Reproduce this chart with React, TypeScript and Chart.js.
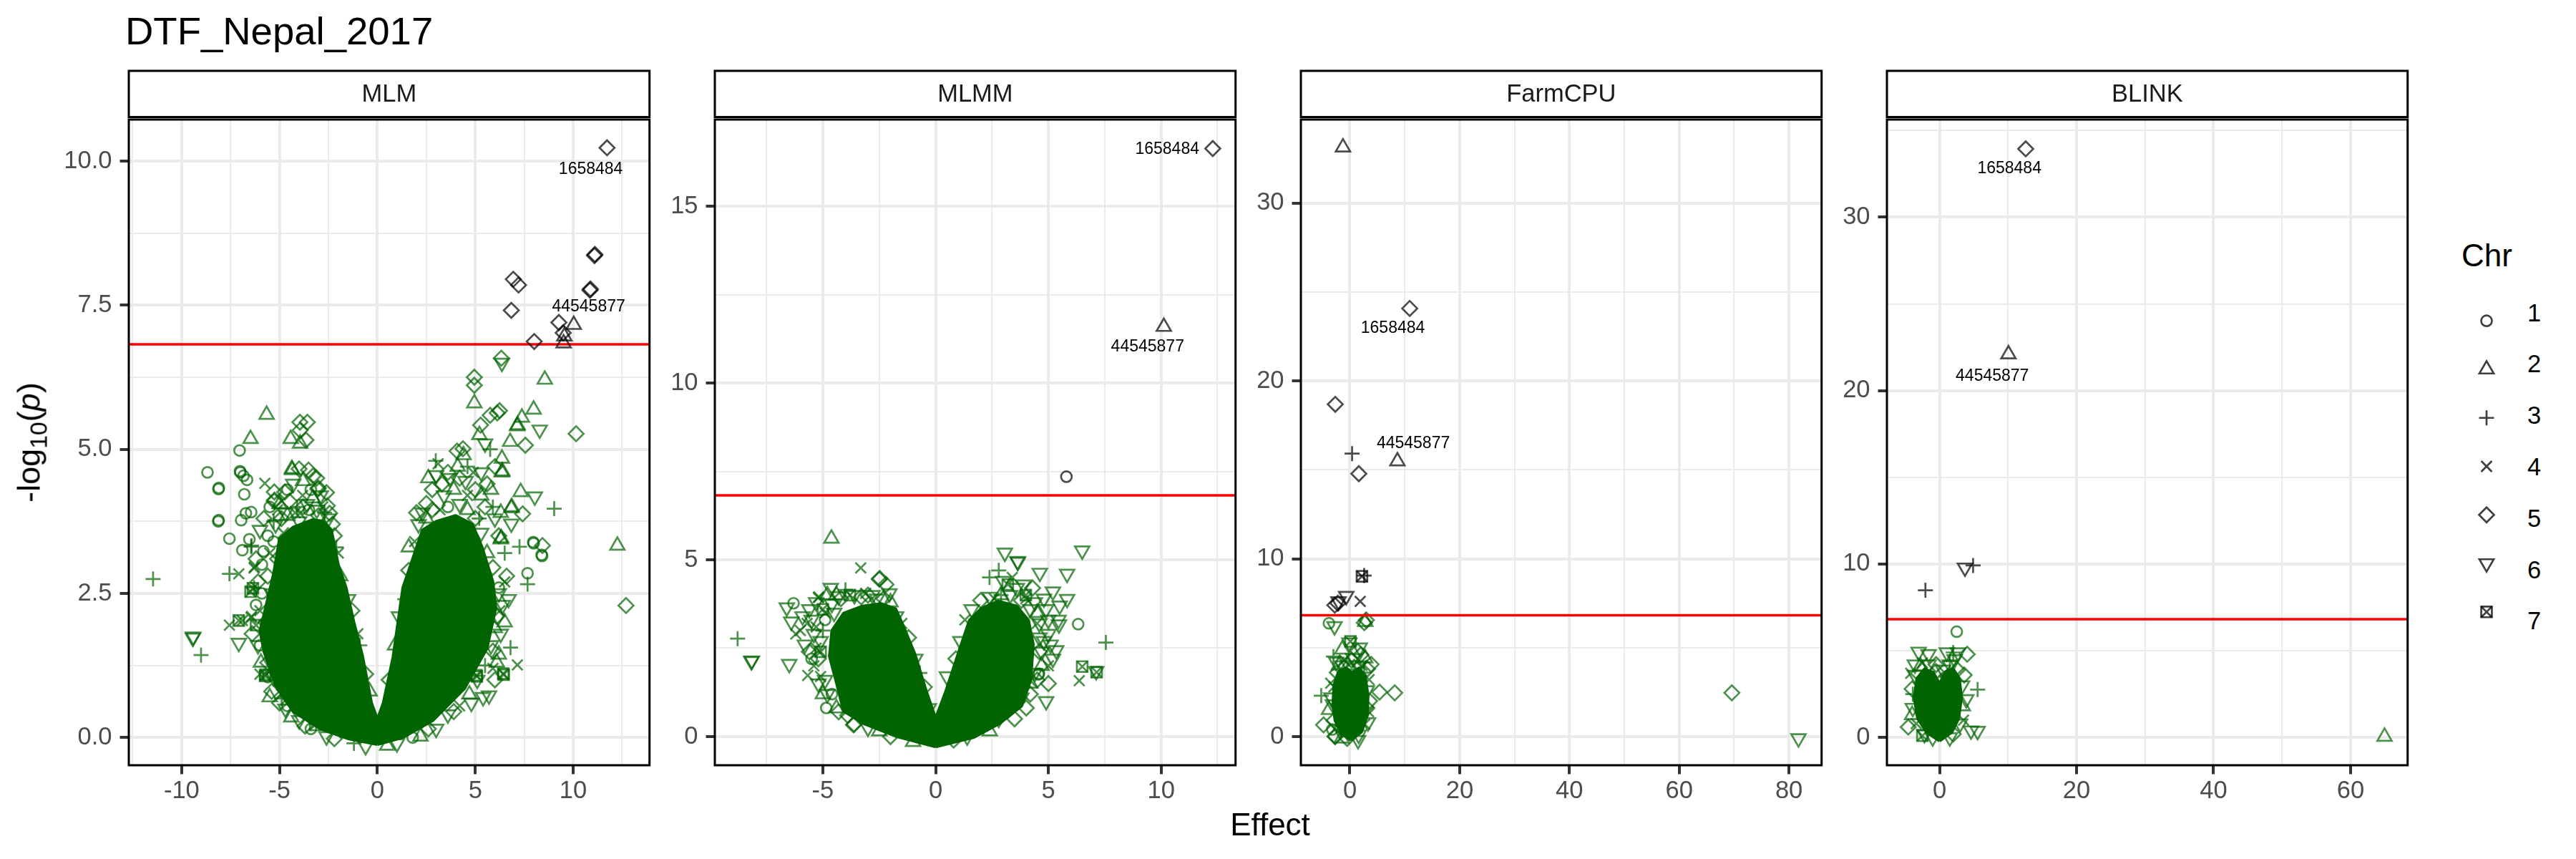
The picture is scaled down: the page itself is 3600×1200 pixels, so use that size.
import { useEffect, useRef } from 'react'
import { Chart, registerables } from 'chart.js'

Chart.register(...registerables)

const FONT = "'Liberation Sans', Arial, Helvetica, sans-serif"
Chart.defaults.font.family = FONT

// [effect, -log10(p), chromosome]
type Pt = [number, number, number]
// [text, effect, -log10(p)]
type Lab = [string, number, number]

const TITLE = 'DTF_Nepal_2017'
const X_TITLE = 'Effect'
const LEGEND_TITLE = 'Chr'
const CHROMOSOMES = [1, 2, 3, 4, 5, 6, 7]
const THRESHOLD = 6.82

// ---- MLM ----
const MLM_X_LIM = [-12.7, 13.9]
const MLM_Y_LIM = [-0.48, 10.72]
const MLM_X_BREAKS = [-10, -5, 0, 5, 10]
const MLM_X_MINOR = [-12.5, -7.5, -2.5, 2.5, 7.5, 12.5]
const MLM_Y_BREAKS = [0, 2.5, 5, 7.5, 10]
const MLM_Y_MINOR = [1.25, 3.75, 6.25, 8.75]
// outline of the solid, fully over-plotted part of the cloud
const MLM_CORE: [number, number][] = [
  [0, -0.12], [-1.5, -0.02], [-2.9, 0.15], [-4.3, 0.45], [-5.2, 0.9], [-5.8, 1.5], [-6.0, 1.85],
  [-5.75, 2.2], [-5.3, 2.85], [-5.0, 3.45], [-4.3, 3.65], [-3.3, 3.78], [-2.75, 3.75], [-2.35, 3.6],
  [-2.0, 3.0], [-1.6, 2.6], [-1.2, 2.0], [-0.75, 1.4], [-0.3, 0.6], [0, 0.32], [0.3, 0.6], [0.8, 1.4],
  [1.3, 2.6], [1.9, 3.2], [2.3, 3.6], [3.0, 3.75], [4.0, 3.85], [4.85, 3.7], [5.35, 3.3], [5.9, 2.7],
  [6.05, 2.25], [5.6, 1.55], [4.45, 0.85], [2.85, 0.3], [1.3, 0.0], [0, -0.12],
]
const MLM_POINTS: Pt[] = [
  [-11.46, 2.75, 3], [-9.43, 1.73, 6], [-9.41, 1.75, 6], [-9.01, 1.43, 3], [-8.68, 4.6, 1],
  [-8.12, 4.31, 1], [-8.1, 4.33, 1], [-8.13, 3.75, 1], [-8.11, 3.77, 1], [-7.56, 3.45, 1],
  [-7.56, 2.84, 3], [-7.08, 2.84, 4], [-7.56, 1.95, 4], [-7.08, 2.03, 7], [-6.9, 2.03, 4], [-7.08, 1.64, 6],
  [-7.04, 4.98, 1], [-7.02, 4.62, 1], [-7.0, 4.6, 1], [-6.84, 4.54, 1], [-6.66, 4.47, 1], [-6.8, 4.22, 1],
  [-6.96, 3.77, 1], [-6.72, 3.89, 1], [-6.45, 3.91, 1], [-6.9, 3.25, 1], [-6.54, 3.44, 1], [-5.82, 3.23, 1],
  [-6.45, 3.31, 3], [-6.43, 3.33, 3], [-6.3, 2.94, 4], [-6.28, 2.96, 4], [-6.36, 2.59, 7], [-6.48, 2.53, 7],
  [-6.45, 2.08, 4], [-6.43, 2.1, 4], [-6.48, 5.18, 2], [-5.66, 5.6, 2], [-5.75, 4.41, 4], [-5.27, 4.26, 5],
  [-4.73, 4.26, 5], [-5.27, 4.1, 5], [-5.25, 4.12, 5], [-4.43, 5.18, 2], [-3.95, 5.1, 2], [-3.65, 5.16, 5],
  [-3.95, 5.33, 5], [-3.96, 5.47, 5], [-3.58, 5.47, 5], [-4.37, 4.66, 2], [-4.35, 4.64, 2], [-4.0, 4.66, 5],
  [-3.52, 4.64, 5], [-3.28, 4.54, 5], [-3.1, 4.5, 5], [-3.04, 4.31, 5], [-3.02, 4.33, 5], [-3.82, 4.2, 4],
  [-3.96, 3.89, 4], [-2.56, 4.02, 5], [-2.44, 3.89, 5], [-5.74, 1.07, 7], [-5.72, 1.09, 7], [-4.89, 0.68, 3],
  [-3.18, 0.22, 7], [-6.1, 1.6, 6], [-5.95, 1.3, 2], [-5.6, 1.05, 1], [-5.4, 0.8, 5], [-4.7, 0.5, 6],
  [-5.0, 0.6, 5], [-4.4, 0.35, 2], [-3.7, 0.2, 5], [-2.6, 0.02, 6], [-6.2, 2.3, 1], [-6.1, 2.7, 5],
  [-5.9, 3.0, 1], [-5.6, 3.5, 1], [-5.8, 3.8, 5], [-5.3, 3.75, 3], [-5.1, 3.95, 4], [-4.7, 3.9, 6],
  [-4.5, 4.1, 5], [-4.1, 4.0, 3], [-3.6, 4.05, 6], [-3.3, 4.15, 2], [-2.8, 4.0, 4], [-2.3, 3.7, 5], [-2.1, 3.3, 3],
  [-4.6, 0.55, 1], [-4.9, 0.75, 4], [-5.3, 1.05, 6], [-5.6, 1.3, 5], [-6.0, 1.6, 1], [-6.2, 1.95, 7],
  [-6.0, 2.2, 4], [-5.9, 2.5, 1], [-5.6, 2.8, 5], [-5.5, 3.2, 4], [-5.3, 3.4, 1], [-5.2, 3.7, 6],
  [-4.9, 3.8, 5], [-4.6, 3.85, 2], [-4.2, 3.9, 4], [-3.8, 4.0, 5], [-3.5, 3.95, 1], [-3.1, 3.95, 6],
  [-2.7, 3.9, 3], [-2.5, 3.8, 6], [-2.2, 3.5, 5], [-2.0, 3.2, 4], [-1.9, 2.8, 2], [-1.5, 2.4, 6],
  [-1.3, 2.2, 5], [-1.0, 1.8, 4], [-0.9, 1.6, 3], [-0.6, 1.1, 5], [-0.4, 0.8, 2], [-4.0, 0.3, 6],
  [-3.4, 0.15, 1], [-2.2, -0.02, 5], [-1.2, -0.1, 3], [-0.6, -0.15, 6], [-5.45, 1.6, 3], [-5.7, 2.0, 5],
  [-5.4, 2.5, 6], [-5.1, 3.1, 5], [-4.8, 3.55, 4], [-4.0, 3.75, 6], [-3.0, 3.85, 5], [-2.4, 3.3, 2],
  [-4.6, 4.3, 1], [-4.3, 4.4, 6], [-3.8, 4.45, 2], [-3.4, 4.3, 1], [-2.9, 4.2, 6], [-2.6, 4.25, 5],
  [-5.0, 4.05, 2], [-5.5, 4.0, 1], [-6.0, 3.6, 6], [-6.2, 3.1, 5], [-6.3, 2.6, 3], [-6.4, 1.8, 5],
  [-6.0, 1.1, 4], [-5.5, 0.7, 2],
  [12.26, 3.33, 2], [12.7, 2.29, 5], [10.15, 5.27, 5], [9.03, 3.97, 3], [7.98, 3.37, 1], [7.96, 3.39, 1],
  [8.41, 3.15, 1], [8.39, 3.17, 1], [8.43, 3.33, 5], [7.26, 3.31, 3], [7.67, 2.85, 1], [7.67, 2.66, 3],
  [6.8, 1.56, 3], [7.15, 1.26, 4], [6.45, 1.09, 7], [6.43, 1.11, 7], [5.08, 1.06, 7], [5.06, 1.08, 7],
  [5.7, 0.73, 6], [4.8, 0.6, 6], [6.2, 1.44, 2], [6.3, 3.44, 2], [6.32, 3.46, 2], [6.84, 3.98, 2],
  [6.86, 4.0, 2], [7.42, 3.88, 5], [6.84, 3.71, 6], [8.04, 4.18, 6], [7.32, 4.26, 2], [6.36, 4.6, 2],
  [6.38, 4.62, 2], [6.36, 4.84, 2], [7.56, 5.07, 5], [5.76, 5.0, 3], [4.07, 4.97, 5], [4.37, 5.01, 5],
  [6.78, 5.13, 2], [5.21, 5.25, 2], [5.27, 5.42, 5], [7.14, 5.4, 2], [7.16, 5.42, 2], [8.29, 5.34, 6],
  [7.38, 5.55, 2], [6.12, 5.63, 5], [6.24, 5.67, 5], [5.76, 5.59, 5], [7.98, 5.69, 2], [4.95, 5.8, 2],
  [8.55, 6.21, 2], [4.95, 6.25, 5], [4.95, 6.11, 5], [6.33, 6.58, 5], [6.36, 6.5, 6], [2.5, 4.06, 5],
  [2.98, 4.8, 3], [3.1, 4.75, 4], [3.6, 4.6, 5], [4.2, 4.5, 5], [4.6, 4.7, 3], [5.3, 4.6, 6], [5.8, 4.3, 2],
  [5.5, 4.0, 5], [6.0, 3.8, 6], [6.5, 3.2, 3], [6.6, 2.8, 5], [6.7, 2.4, 6], [6.5, 2.0, 2], [6.3, 1.8, 6],
  [5.9, 1.2, 4], [3.9, 0.45, 5], [3.0, 0.15, 6], [2.2, 0.02, 2], [3.4, 4.2, 6], [3.9, 4.3, 2], [4.6, 4.2, 4],
  [5.0, 4.3, 5], [4.4, 4.9, 2], [5.5, 5.1, 6], [6.0, 4.7, 5], [5.2, 3.8, 3], [2.8, 4.3, 5], [2.3, 3.9, 6],
  [6.2, 2.6, 1], [6.1, 2.1, 5], [5.8, 1.6, 6],
  [0.6, 1.0, 5], [0.9, 1.6, 2], [1.1, 2.1, 6], [1.4, 2.4, 3], [1.6, 2.9, 5], [1.9, 3.4, 4], [2.1, 3.7, 6],
  [2.5, 3.8, 2], [2.8, 3.95, 5], [3.2, 3.95, 4], [3.6, 4.0, 1], [4.2, 4.05, 6], [4.6, 3.95, 2], [5.0, 3.8, 5],
  [5.3, 3.55, 6], [5.6, 3.2, 2], [5.9, 2.95, 5], [6.2, 2.5, 6], [6.25, 2.2, 4], [6.0, 1.9, 2], [5.9, 1.5, 5],
  [5.5, 1.25, 3], [5.1, 1.0, 6], [4.7, 0.75, 2], [4.2, 0.55, 4], [3.6, 0.4, 6], [2.6, 0.15, 5], [1.8, 0.0, 1],
  [1.0, -0.1, 6], [0.5, -0.14, 2], [3.3, 4.4, 5], [3.7, 4.5, 6], [4.1, 4.7, 2], [4.5, 4.45, 6], [4.9, 4.6, 4],
  [5.3, 4.2, 2], [5.6, 4.4, 5], [5.9, 4.0, 3], [6.3, 3.9, 2], [6.2, 3.5, 5], [6.5, 2.7, 4], [6.4, 2.3, 6],
  [6.1, 1.3, 2], [6.0, 1.0, 5], [5.4, 0.7, 6], [2.6, 4.5, 2], [3.0, 4.55, 6], [2.0, 3.9, 5], [1.6, 3.3, 2],
  [11.73, 10.23, 5], [11.09, 8.36, 5], [11.11, 8.38, 5], [10.86, 7.76, 5], [10.88, 7.78, 5], [6.94, 7.95, 5],
  [7.21, 7.85, 5], [6.84, 7.41, 5], [9.27, 7.2, 5], [10.03, 7.16, 2], [9.49, 7.02, 5], [9.55, 6.96, 2],
  [9.51, 6.84, 2], [8.01, 6.87, 5],
]
const MLM_LABELS: Lab[] = [['1658484', 10.9, 9.86], ['44545877', 10.79, 7.47]]

// ---- MLMM ----
const MLMM_X_LIM = [-9.79, 13.3]
const MLMM_Y_LIM = [-0.81, 17.45]
const MLMM_X_BREAKS = [-5, 0, 5, 10]
const MLMM_X_MINOR = [-7.5, -2.5, 2.5, 7.5, 12.5]
const MLMM_Y_BREAKS = [0, 5, 10, 15]
const MLMM_Y_MINOR = [2.5, 7.5, 12.5]
const MLMM_CORE: [number, number][] = [
  [0, -0.29], [-1.77, 0.01], [-3.13, 0.35], [-4.08, 0.72], [-4.4, 1.53], [-4.71, 2.27], [-4.6, 3.0],
  [-4.08, 3.49], [-3.24, 3.69], [-2.4, 3.76], [-1.77, 3.61], [-1.45, 3.15], [-0.92, 2.34], [-0.4, 1.26],
  [0, 0.52], [0.44, 1.26], [1.07, 2.48], [1.5, 3.29], [2.02, 3.62], [2.76, 3.83], [3.6, 3.69], [4.12, 3.29],
  [4.33, 2.61], [4.22, 1.6], [3.81, 0.86], [2.86, 0.38], [1.7, -0.02], [0, -0.29],
]
const MLMM_POINTS: Pt[] = [
  [-4.62, 5.6, 2], [-3.32, 4.77, 4], [-2.5, 4.45, 5], [-2.48, 4.47, 5], [-2.2, 4.3, 5], [-2.05, 4.05, 6],
  [-4.65, 4.2, 6], [-4.3, 3.97, 6], [-5.2, 3.93, 4], [-5.18, 3.95, 4], [-6.3, 3.77, 1], [-6.6, 3.65, 6],
  [-6.4, 3.25, 6], [-6.2, 2.9, 4], [-8.78, 2.77, 3], [-8.17, 2.13, 6], [-8.15, 2.15, 6], [-6.49, 2.05, 6],
  [-5.67, 1.73, 4], [-4.85, 0.81, 1], [-3.64, 0.33, 5], [-3.62, 0.35, 5], [-4.9, 1.6, 6], [-5.3, 2.5, 4],
  [-5.5, 3.3, 6], [-5.0, 3.6, 7], [-3.8, 4.0, 7], [-3.3, 3.95, 5], [-4.0, 4.15, 3], [-4.5, 3.5, 6],
  [-5.5, 2.2, 1], [-4.6, 1.2, 1], [-4.3, 0.7, 5], [-2.5, 0.15, 2], [-5.6, 3.6, 6], [-5.9, 3.4, 6],
  [-6.0, 3.0, 4], [-5.8, 2.6, 6], [-5.4, 2.0, 4], [-5.2, 1.5, 6], [-5.0, 1.2, 2], [-4.9, 3.3, 1],
  [-5.3, 3.1, 4], [-5.1, 2.4, 7], [-4.4, 4.0, 2], [-3.0, 4.0, 5], [-2.6, 3.9, 6],
  [-3.9, 0.6, 5], [-4.4, 0.8, 2], [-4.8, 1.2, 6], [-5.1, 1.7, 4], [-5.2, 2.2, 5], [-5.1, 2.7, 6],
  [-5.0, 3.0, 3], [-4.9, 3.5, 4], [-4.6, 3.75, 6], [-4.2, 3.9, 5], [-3.6, 4.0, 6], [-3.1, 4.05, 4],
  [-2.8, 4.0, 6], [-2.3, 3.9, 5], [-2.0, 3.8, 2], [-1.75, 3.4, 6], [-1.5, 3.2, 4], [-1.2, 2.8, 5],
  [-0.9, 2.2, 6], [-0.7, 1.8, 3], [-0.5, 1.4, 5], [-0.3, 0.8, 6], [-3.0, 0.25, 6], [-2.0, 0.0, 5],
  [-1.0, -0.15, 2], [-5.4, 2.9, 6], [-5.6, 2.4, 5], [-5.7, 3.2, 4], [-5.3, 3.8, 6], [-4.8, 4.0, 2],
  [6.5, 5.26, 6], [5.83, 4.6, 6], [4.62, 4.63, 6], [3.65, 4.94, 6], [3.63, 4.96, 6], [3.07, 5.2, 6],
  [2.39, 4.5, 3], [2.8, 4.7, 3], [5.83, 3.89, 6], [5.47, 3.17, 6], [5.45, 3.3, 6], [6.32, 3.18, 1],
  [7.55, 2.66, 3], [5.35, 2.44, 6], [6.5, 1.98, 7], [7.14, 1.82, 7], [7.12, 1.85, 6], [6.37, 1.58, 4],
  [4.56, 1.76, 1], [4.58, 1.78, 1], [5.0, 1.5, 5], [4.9, 1.0, 6], [4.02, 0.81, 5], [3.2, 4.3, 7],
  [4.0, 4.0, 7], [4.5, 3.5, 2], [4.9, 3.6, 6], [5.0, 2.9, 6], [4.7, 2.4, 6], [3.5, 0.5, 5], [2.4, 0.15, 2],
  [4.6, 3.2, 6], [4.8, 2.7, 6], [4.7, 2.0, 2], [4.5, 1.6, 5], [4.4, 3.8, 6], [4.0, 3.9, 4], [3.6, 4.2, 6],
  [2.9, 4.0, 3], [2.6, 3.9, 4], [5.2, 2.2, 6], [4.2, 1.2, 5], [5.2, 4.1, 6], [5.5, 3.7, 6],
  [0.5, 1.7, 6], [0.9, 2.2, 5], [1.1, 2.7, 6], [1.3, 3.3, 4], [1.6, 3.6, 6], [2.0, 3.85, 5], [2.4, 3.95, 6],
  [2.9, 4.0, 2], [3.3, 4.0, 6], [3.8, 3.85, 5], [4.2, 3.6, 6], [4.5, 3.2, 4], [4.6, 2.8, 6], [4.6, 2.4, 5],
  [4.4, 1.8, 6], [4.2, 1.5, 2], [3.8, 1.1, 6], [3.3, 0.8, 5], [2.8, 0.5, 6], [2.1, 0.3, 4], [1.4, 0.0, 6],
  [0.8, -0.1, 5], [3.0, 4.4, 6], [3.4, 4.5, 4], [3.9, 4.3, 6], [4.3, 4.2, 5], [4.8, 3.9, 6], [5.0, 3.3, 6],
  [5.1, 2.6, 6], [5.0, 2.0, 4],
  [12.29, 16.63, 5], [10.12, 11.59, 2], [5.8, 7.35, 1],
]
const MLMM_LABELS: Lab[] = [['1658484', 10.27, 16.61], ['44545877', 9.4, 11.01]]

// ---- FarmCPU ----
const FARM_X_LIM = [-8.93, 85.95]
const FARM_Y_LIM = [-1.61, 34.69]
const FARM_X_BREAKS = [0, 20, 40, 60, 80]
const FARM_X_MINOR = [10, 30, 50, 70]
const FARM_Y_BREAKS = [0, 10, 20, 30]
const FARM_Y_MINOR = [5, 15, 25]
const FARM_CORE: [number, number][] = [
  [0.2, -0.2], [-1.5, 0.15], [-2.7, 0.9], [-3.1, 1.8], [-2.9, 2.9], [-2.1, 3.65], [-0.8, 3.85],
  [0.4, 3.6], [1.6, 3.85], [2.8, 3.4], [3.3, 2.3], [3.2, 1.2], [2.1, 0.25], [0.2, -0.2],
]
const FARM_POINTS: Pt[] = [
  [-3.82, 6.37, 1], [-2.8, 6.2, 6], [2.63, 6.4, 5], [3.0, 6.55, 5], [2.8, 6.45, 2], [-0.1, 5.29, 6],
  [0.1, 5.35, 7], [1.4, 4.8, 5], [1.8, 5.0, 6], [-1.4, 4.9, 2], [3.87, 4.06, 5], [8.17, 2.46, 5],
  [5.4, 2.5, 5], [69.6, 2.46, 5], [81.74, -0.1, 6], [-5.22, 2.3, 3], [-4.8, 0.66, 5], [-2.7, 0.0, 5],
  [-2.68, 0.02, 5], [-3.0, 4.5, 3], [-2.5, 4.2, 6], [2.0, 4.6, 5], [2.8, 4.4, 2], [3.5, 3.2, 4],
  [3.6, 2.0, 5], [-3.5, 3.0, 4], [-3.8, 1.5, 2], [3.3, 0.8, 6], [-3.2, 0.4, 1], [-1.0, 4.3, 4],
  [0.6, 4.4, 6], [3.2, 3.8, 5], [-3.4, 2.2, 6], [3.4, 1.4, 4], [1.5, -0.2, 6], [-1.5, -0.1, 2],
  [-2.9, 0.9, 5], [-3.1, 1.8, 6], [-2.9, 2.8, 4], [-2.3, 3.6, 5], [-1.4, 4.0, 6], [-0.3, 4.0, 2],
  [0.8, 3.9, 5], [1.7, 4.0, 6], [2.6, 3.6, 3], [3.1, 2.6, 6], [3.1, 1.6, 5], [2.7, 0.7, 4], [1.6, 0.1, 6],
  [-0.5, -0.1, 5], [-1.9, 0.4, 6], [-2.0, 4.0, 2], [0.3, 4.3, 5], [2.2, 4.0, 4],
  [-1.26, 33.13, 2], [10.9, 24.07, 5], [-2.66, 18.68, 5], [0.4, 15.91, 3], [1.63, 14.78, 5],
  [8.66, 15.48, 2], [2.2, 9.01, 7], [2.6, 9.05, 3], [1.88, 7.6, 4], [-0.67, 7.9, 6], [-2.08, 7.6, 6],
  [-2.75, 7.39, 5], [-2.2, 7.5, 5],
]
const FARM_LABELS: Lab[] = [['1658484', 7.83, 22.95], ['44545877', 11.55, 16.48]]

// ---- BLINK ----
const BLINK_X_LIM = [-7.68, 68.33]
const BLINK_Y_LIM = [-1.6, 35.63]
const BLINK_X_BREAKS = [0, 20, 40, 60]
const BLINK_X_MINOR = [10, 30, 50]
const BLINK_Y_BREAKS = [0, 10, 20, 30]
const BLINK_Y_MINOR = [5, 15, 25, 35]
const BLINK_CORE: [number, number][] = [
  [0, -0.2], [-1.9, 0.3], [-3.2, 1.1], [-3.7, 2.3], [-3.3, 3.4], [-2.2, 3.95], [-0.9, 3.75], [0, 3.1],
  [0.9, 3.8], [2.0, 3.95], [2.9, 3.4], [3.2, 2.3], [2.8, 1.1], [1.8, 0.3], [0, -0.2],
]
const BLINK_POINTS: Pt[] = [
  [2.51, 6.1, 1], [-3.05, 4.94, 6], [-1.6, 4.8, 6], [1.06, 4.9, 6], [2.7, 4.9, 6], [4.04, 4.8, 5],
  [5.56, 2.76, 3], [5.56, 0.37, 6], [4.6, 0.4, 6], [64.96, 0.05, 2], [-4.57, 0.6, 5], [-4.2, 3.7, 4],
  [-3.9, 2.5, 3], [-4.0, 1.3, 2], [3.6, 3.6, 5], [3.9, 2.2, 6], [3.5, 1.0, 4], [-2.5, 0.1, 7],
  [1.5, 4.4, 3], [-0.5, 4.2, 5], [2.2, 4.5, 6], [-2.5, 4.3, 4], [2.0, 4.9, 3], [-3.6, 4.2, 6],
  [-1.0, 0.0, 6], [1.5, 0.0, 6],
  [-3.9, 1.7, 6], [-4.0, 2.8, 5], [-3.6, 3.6, 6], [-2.8, 4.1, 2], [-1.6, 4.2, 6], [-0.5, 3.8, 5],
  [0.5, 3.9, 6], [1.5, 4.2, 6], [2.6, 3.9, 5], [3.3, 3.0, 6], [3.4, 1.8, 2], [3.0, 0.8, 6], [2.0, 0.2, 5],
  [-2.2, 0.2, 6], [-3.4, 0.8, 4], [-1.5, 3.5, 4], [1.2, 3.5, 5],
  [12.58, 33.94, 5], [10.06, 22.1, 2], [3.71, 9.79, 6], [4.9, 9.92, 3], [-2.06, 8.49, 3],
]
const BLINK_LABELS: Lab[] = [['1658484', 10.2, 32.8], ['44545877', 7.7, 20.84]]

const PANELS = [
  { name: 'MLM', xLim: MLM_X_LIM, yLim: MLM_Y_LIM, xBreaks: MLM_X_BREAKS, xMinor: MLM_X_MINOR, yBreaks: MLM_Y_BREAKS, yMinor: MLM_Y_MINOR, yDigits: 1, core: MLM_CORE, points: MLM_POINTS, labels: MLM_LABELS },
  { name: 'MLMM', xLim: MLMM_X_LIM, yLim: MLMM_Y_LIM, xBreaks: MLMM_X_BREAKS, xMinor: MLMM_X_MINOR, yBreaks: MLMM_Y_BREAKS, yMinor: MLMM_Y_MINOR, yDigits: 0, core: MLMM_CORE, points: MLMM_POINTS, labels: MLMM_LABELS },
  { name: 'FarmCPU', xLim: FARM_X_LIM, yLim: FARM_Y_LIM, xBreaks: FARM_X_BREAKS, xMinor: FARM_X_MINOR, yBreaks: FARM_Y_BREAKS, yMinor: FARM_Y_MINOR, yDigits: 0, core: FARM_CORE, points: FARM_POINTS, labels: FARM_LABELS },
  { name: 'BLINK', xLim: BLINK_X_LIM, yLim: BLINK_Y_LIM, xBreaks: BLINK_X_BREAKS, xMinor: BLINK_X_MINOR, yBreaks: BLINK_Y_BREAKS, yMinor: BLINK_Y_MINOR, yDigits: 0, core: BLINK_CORE, points: BLINK_POINTS, labels: BLINK_LABELS },
]

// layout (page pixels)
const PANEL_LEFT = [180, 999, 1818, 2637]
const PANEL_W = 732
const PANEL_TOP = 167
const PANEL_BOTTOM = 1069
const Y_AXIS_W = 120
const X_AXIS_H = 70
const CANVAS_TOP = 90

const GREEN = 'rgba(0,100,0,0.7)'
const GREY = 'rgba(0,0,0,0.7)'
const CORE = '#006400'

const SHAPES: Record<number, { style: string; r: number; rot: number }> = {
  1: { style: 'circle', r: 7.5, rot: 0 },
  2: { style: 'triangle', r: 11.6, rot: 0 },
  3: { style: 'cross', r: 10.5, rot: 0 },
  4: { style: 'crossRot', r: 10.5, rot: 0 },
  5: { style: 'rectRot', r: 10.5, rot: 0 },
  6: { style: 'triangle', r: 11.6, rot: 180 },
  7: { style: 'rect', r: 10.5, rot: 0 },
}

function markerSet(data: { x: number; y: number }[], style: string, r: number, rot: number, color: string, order: number) {
  return {
    type: 'scatter',
    data,
    pointStyle: style,
    pointRadius: r,
    pointRotation: rot,
    borderColor: color,
    pointBorderColor: color,
    backgroundColor: 'rgba(0,0,0,0)',
    pointBackgroundColor: 'rgba(0,0,0,0)',
    pointBorderWidth: 2.7,
    borderWidth: 2.7,
    order,
  }
}

function pointSets(points: Pt[]) {
  const sets: any[] = []
  const groups = [
    { sig: false, color: GREEN, order: 10 },
    { sig: true, color: GREY, order: 2 },
  ]
  for (const g of groups) {
    for (const chr of CHROMOSOMES) {
      const data = points
        .filter((p) => p[2] === chr && p[1] > THRESHOLD === g.sig)
        .map((p) => ({ x: p[0], y: p[1] }))
      if (!data.length) continue
      const s = SHAPES[chr]
      sets.push(markerSet(data, s.style, s.r, s.rot, g.color, g.order))
      if (chr === 7) sets.push(markerSet(data, 'crossRot', s.r, 0, g.color, g.order))
    }
  }
  return sets
}

function axis(lim: number[], breaks: number[], minor: number[], digits: number, isX: boolean) {
  const all = [...breaks, ...minor].sort((a, b) => a - b)
  const major = (v: any) => breaks.includes(v)
  return {
    type: 'linear',
    min: lim[0],
    max: lim[1],
    bounds: 'data',
    afterBuildTicks: (s: any) => {
      s.ticks = all.map((v) => ({ value: v }))
    },
    afterFit: (s: any) => {
      if (isX) s.height = X_AXIS_H
      else s.width = Y_AXIS_W
    },
    border: { display: false },
    grid: {
      color: '#EBEBEB',
      lineWidth: (c: any) => (major(c.tick?.value) ? 4 : 2),
      drawTicks: true,
      tickLength: 12.5,
      tickWidth: 4,
      tickColor: (c: any) => (major(c.tick?.value) ? '#333333' : 'rgba(0,0,0,0)'),
    },
    ticks: {
      autoSkip: false,
      maxRotation: 0,
      minRotation: 0,
      padding: isX ? 3 : 11,
      color: '#4D4D4D',
      font: { family: FONT, size: 34.5 },
      callback: (v: any) => (major(v) ? Number(v).toFixed(digits) : ''),
    },
  }
}

function Panel({ cfg, left }: { cfg: (typeof PANELS)[number]; left: number }) {
  const canvasRef = useRef<HTMLCanvasElement | null>(null)

  useEffect(() => {
    if (!canvasRef.current) return
    const decor = {
      id: 'panelDecor',
      afterDatasetsDraw(chart: any) {
        const { ctx, scales } = chart
        ctx.save()
        ctx.fillStyle = '#000000'
        ctx.font = `23px ${FONT}`
        ctx.textAlign = 'center'
        ctx.textBaseline = 'middle'
        for (const [t, x, y] of cfg.labels) {
          ctx.fillText(t, scales.x.getPixelForValue(x), scales.y.getPixelForValue(y))
        }
        ctx.restore()
      },
      afterDraw(chart: any) {
        const { ctx, chartArea: a } = chart
        ctx.save()
        ctx.strokeStyle = '#000000'
        ctx.lineWidth = 3
        ctx.strokeRect(a.left, a.top, a.right - a.left, a.bottom - a.top)
        const st = a.top - 68
        const sb = a.top - 3.5
        ctx.fillStyle = '#ffffff'
        ctx.fillRect(a.left, st, a.right - a.left, sb - st)
        ctx.strokeRect(a.left, st, a.right - a.left, sb - st)
        ctx.fillStyle = '#1A1A1A'
        ctx.font = `34.5px ${FONT}`
        ctx.textAlign = 'center'
        ctx.textBaseline = 'middle'
        ctx.fillText(cfg.name, (a.left + a.right) / 2, (st + sb) / 2 + 1)
        ctx.restore()
      },
    }

    const chart = new Chart(canvasRef.current, {
      type: 'scatter',
      data: {
        datasets: [
          {
            type: 'line',
            data: cfg.core.map(([x, y]) => ({ x, y })),
            borderColor: CORE,
            backgroundColor: CORE,
            borderWidth: 4,
            borderJoinStyle: 'round',
            pointRadius: 0,
            tension: 0,
            fill: 'shape',
            order: 20,
          },
          {
            type: 'line',
            data: [
              { x: cfg.xLim[0], y: THRESHOLD },
              { x: cfg.xLim[1], y: THRESHOLD },
            ],
            borderColor: '#FF0000',
            borderWidth: 3.5,
            pointRadius: 0,
            fill: false,
            order: 5,
          },
          ...pointSets(cfg.points),
        ] as any,
      },
      options: {
        animation: false,
        responsive: true,
        maintainAspectRatio: false,
        events: [],
        layout: { padding: { top: PANEL_TOP - CANVAS_TOP, right: 10, left: 0, bottom: 0 } },
        plugins: { legend: { display: false }, tooltip: { enabled: false } },
        scales: {
          x: axis(cfg.xLim, cfg.xBreaks, cfg.xMinor, 0, true),
          y: axis(cfg.yLim, cfg.yBreaks, cfg.yMinor, cfg.yDigits, false),
        } as any,
      },
      plugins: [decor],
    })

    return () => chart.destroy()
  }, [cfg])

  return (
    <div
      style={{
        position: 'absolute',
        left,
        top: CANVAS_TOP,
        width: Y_AXIS_W + PANEL_W + 10,
        height: PANEL_BOTTOM - CANVAS_TOP + X_AXIS_H,
      }}
    >
      <canvas ref={canvasRef} />
    </div>
  )
}

function LegendKeys() {
  const canvasRef = useRef<HTMLCanvasElement | null>(null)

  useEffect(() => {
    if (!canvasRef.current) return
    const sets: any[] = []
    for (const chr of CHROMOSOMES) {
      const s = SHAPES[chr]
      const data = [{ x: 0.5, y: chr }]
      sets.push(markerSet(data, s.style, s.r, s.rot, 'rgba(0,0,0,0.75)', 1))
      if (chr === 7) sets.push(markerSet(data, 'crossRot', s.r, 0, 'rgba(0,0,0,0.75)', 1))
    }
    const chart = new Chart(canvasRef.current, {
      type: 'scatter',
      data: { datasets: sets },
      options: {
        animation: false,
        responsive: true,
        maintainAspectRatio: false,
        events: [],
        layout: { padding: 0 },
        plugins: { legend: { display: false }, tooltip: { enabled: false } },
        scales: {
          x: { display: false, min: 0, max: 1 },
          y: { display: false, min: 0.5, max: 7.5, reverse: true },
        },
      },
    })
    return () => chart.destroy()
  }, [])

  return (
    <div style={{ position: 'absolute', left: 3440, top: 400, width: 70, height: 503 }}>
      <canvas ref={canvasRef} />
    </div>
  )
}

export default function App() {
  useEffect(() => {
    document.body.style.margin = '0'
  }, [])

  const text = (extra: any) => ({
    position: 'absolute' as const,
    lineHeight: 1,
    whiteSpace: 'nowrap' as const,
    color: '#000000',
    ...extra,
  })

  return (
    <div
      style={{
        position: 'absolute',
        left: 0,
        top: 0,
        width: 3600,
        height: 1200,
        background: '#ffffff',
        overflow: 'hidden',
        fontFamily: FONT,
      }}
    >
      <div style={text({ left: 175, top: 17, fontSize: 54.5 })}>{TITLE}</div>

      {PANELS.map((p, i) => (
        <Panel key={p.name} cfg={p} left={PANEL_LEFT[i] - Y_AXIS_W} />
      ))}

      <div style={text({ left: 1775, top: 1130, fontSize: 44, transform: 'translateX(-50%)' })}>{X_TITLE}</div>

      <div
        style={text({
          left: 40,
          top: 618,
          fontSize: 45,
          transform: 'translate(-50%, -50%) rotate(-90deg)',
        })}
      >
        -log
        <sub style={{ fontSize: '0.75em', verticalAlign: '-0.3em', lineHeight: 0 }}>10</sub>
        (<i>p</i>)
      </div>

      <div style={text({ left: 3440, top: 335, fontSize: 44 })}>{LEGEND_TITLE}</div>
      {CHROMOSOMES.map((chr, i) => (
        <div key={chr} style={text({ left: 3532, top: 419.5 + i * 71.8, fontSize: 34.5 })}>
          {chr}
        </div>
      ))}
      <LegendKeys />
    </div>
  )
}
